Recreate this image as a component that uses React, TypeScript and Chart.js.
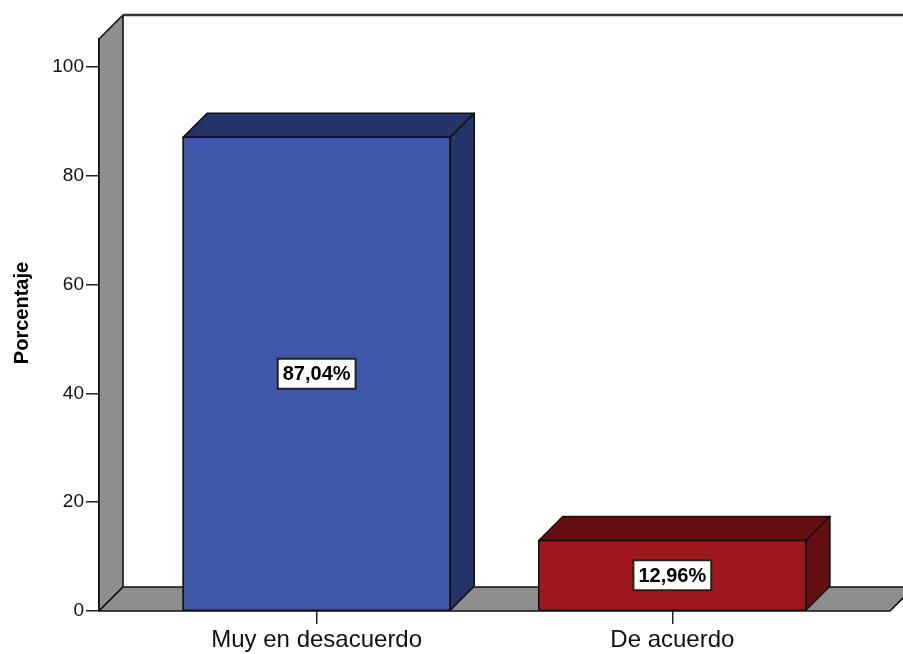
import React, { useEffect, useRef } from "react";
import { Chart, registerables } from "chart.js";

Chart.register(...registerables);

const categories: string[] = ["Muy en desacuerdo", "De acuerdo"];
const percentages: number[] = [87.04, 12.96];
const yTickValues: number[] = [0, 20, 40, 60, 80, 100];
const yAxisTitle = "Porcentaje";

const FRONT_COLORS = ["#3E57A9", "#A0171B"];
const DARK_COLORS = ["#24336A", "#630E10"];
const WALL = "#8E8E8E";
const DEPTH = 24;
const FONT = "Arial, 'Liberation Sans', sans-serif";

function poly(ctx: CanvasRenderingContext2D, pts: number[][], fill: string) {
  ctx.beginPath();
  ctx.moveTo(pts[0][0], pts[0][1]);
  for (let i = 1; i < pts.length; i++) ctx.lineTo(pts[i][0], pts[i][1]);
  ctx.closePath();
  ctx.fillStyle = fill;
  ctx.fill();
  ctx.stroke();
}

const threeD = {
  id: "threeD",
  beforeDatasetsDraw(chart: any) {
    const { ctx, chartArea } = chart;
    const { left, right, top, bottom } = chartArea;
    const D = DEPTH;
    ctx.save();
    ctx.lineJoin = "round";
    ctx.strokeStyle = "#111";
    ctx.lineWidth = 1.6;
    poly(ctx, [[left, bottom], [left, top], [left + D, top - D], [left + D, bottom - D]], WALL);
    poly(ctx, [[left, bottom], [right, bottom], [right + D, bottom - D], [left + D, bottom - D]], WALL);
    ctx.lineWidth = 2.5;
    ctx.strokeStyle = "#333";
    ctx.beginPath();
    ctx.moveTo(left + D, top - D);
    ctx.lineTo(chart.width, top - D);
    ctx.stroke();
    ctx.restore();
  },
  afterDatasetsDraw(chart: any) {
    const { ctx } = chart;
    const D = DEPTH;
    const meta = chart.getDatasetMeta(0);
    ctx.save();
    ctx.lineJoin = "round";
    meta.data.forEach((bar: any, i: number) => {
      ctx.strokeStyle = "#111";
      ctx.lineWidth = 1.6;
      const p = bar.getProps(["x", "y", "base", "width"], true);
      const x0 = p.x - p.width / 2;
      const x1 = p.x + p.width / 2;
      const yt = p.y;
      const yb = p.base;
      poly(ctx, [[x0, yt], [x0 + D, yt - D], [x1 + D, yt - D], [x1, yt]], DARK_COLORS[i]);
      poly(ctx, [[x1, yt], [x1 + D, yt - D], [x1 + D, yb - D], [x1, yb]], DARK_COLORS[i]);
      ctx.beginPath();
      ctx.rect(x0, yt, x1 - x0, yb - yt);
      ctx.stroke();
      const txt = percentages[i].toFixed(2).replace(".", ",") + "%";
      ctx.font = `bold 20px ${FONT}`;
      const tw = ctx.measureText(txt).width;
      const cy = (yt + yb) / 2;
      const bw = tw + 10;
      const bh = 30;
      ctx.fillStyle = "#fff";
      ctx.fillRect(p.x - bw / 2, cy - bh / 2, bw, bh);
      ctx.lineWidth = 2;
      ctx.strokeStyle = "#222";
      ctx.strokeRect(p.x - bw / 2, cy - bh / 2, bw, bh);
      ctx.fillStyle = "#000";
      ctx.textAlign = "center";
      ctx.textBaseline = "middle";
      ctx.fillText(txt, p.x, cy + 1);
    });
    ctx.restore();
  },
  afterDraw(chart: any) {
    const { ctx, chartArea } = chart;
    ctx.save();
    ctx.font = `bold 20px ${FONT}`;
    ctx.fillStyle = "#000";
    ctx.textAlign = "center";
    ctx.textBaseline = "middle";
    ctx.translate(chartArea.left - 77, (chartArea.top - DEPTH + chartArea.bottom) / 2);
    ctx.rotate(-Math.PI / 2);
    ctx.fillText(yAxisTitle, 0, 0);
    ctx.restore();
  },
};

export default function App() {
  const ref = useRef<HTMLCanvasElement | null>(null);
  useEffect(() => {
    if (!ref.current) return;
    const chart = new Chart(ref.current, {
      type: "bar",
      data: {
        datasets: [
          {
            data: percentages.map((v, i) => ({ x: i, y: v })),
            backgroundColor: FRONT_COLORS,
            borderWidth: 0,
            categoryPercentage: 1,
            barPercentage: 0.751,
          },
        ],
      },
      options: {
        animation: false,
        responsive: false,
        devicePixelRatio: 1,
        layout: { padding: { top: 39, right: 13, left: 0, bottom: 0 } },
        plugins: { legend: { display: false }, tooltip: { enabled: false } },
        scales: {
          x: {
            type: "linear",
            offset: false,
            min: -0.612,
            max: 1.612,
            afterBuildTicks: (scale: any) => {
              scale.ticks = categories.map((_, i) => ({ value: i }));
            },
            afterFit: (scale: any) => {
              scale.height = 43;
            },
            ticks: {
              callback: (v: any) => categories[v] ?? "",
              font: { family: FONT, size: 24 },
              color: "#111",
              padding: 2,
              maxRotation: 0,
              autoSkip: false,
            },
            grid: {
              offset: false,
              drawOnChartArea: false,
              drawTicks: true,
              tickLength: 13,
              color: "#222",
              lineWidth: 1.5,
            },
            border: { display: false },
          },
          y: {
            min: 0,
            max: 105.1,
            afterBuildTicks: (scale: any) => {
              scale.ticks = yTickValues.map((v) => ({ value: v }));
            },
            afterFit: (scale: any) => {
              scale.width = 99;
            },
            ticks: {
              font: { family: FONT, size: 19 },
              color: "#111",
              padding: 2,
            },
            grid: {
              drawOnChartArea: false,
              drawTicks: true,
              tickLength: 13,
              color: "#222",
              lineWidth: 1.5,
            },
            border: { display: true, color: "#111", width: 1.5 },
          },
        },
      },
      plugins: [threeD],
    } as any);
    return () => chart.destroy();
  }, []);
  return (
    <div style={{ position: "absolute", left: 0, top: 0, width: 903, height: 654, background: "#fff" }}>
      <canvas ref={ref} width={903} height={654} />
    </div>
  );
}
